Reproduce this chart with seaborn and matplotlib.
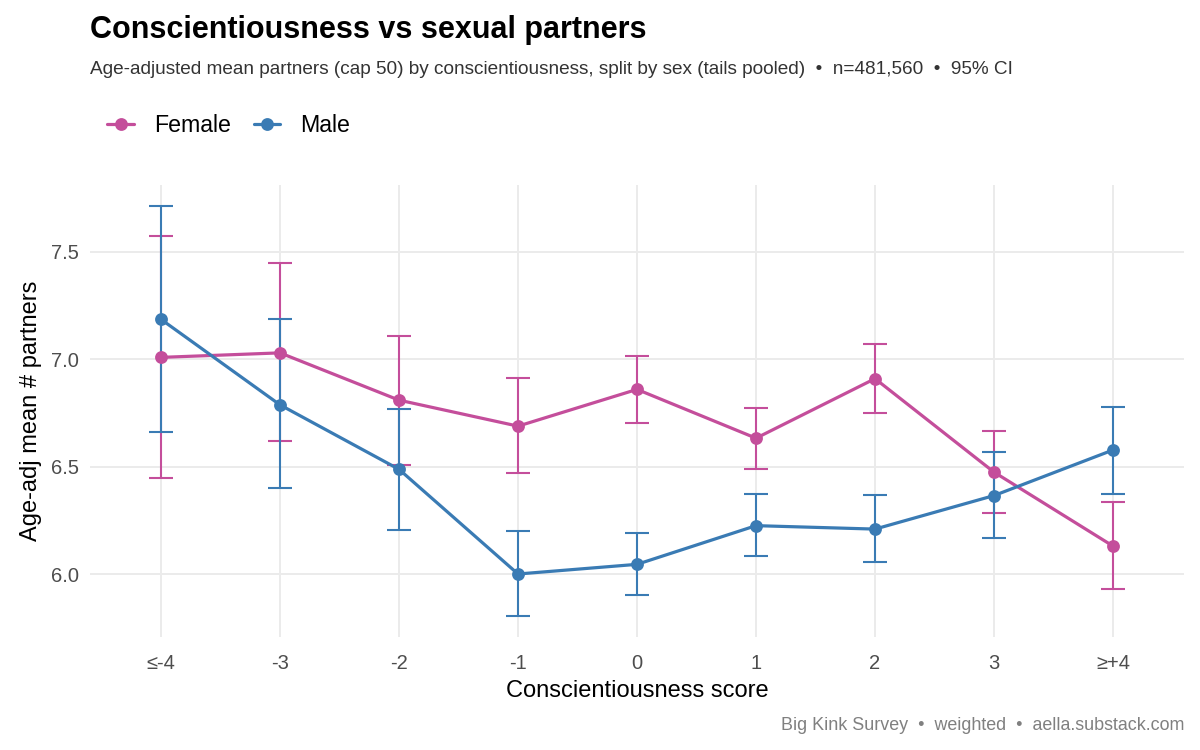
"""
Conscientiousness vs sexual partners: age-adjusted mean partners by
conscientiousness score, split by sex, with 95% CI error bars.
"""

import numpy as np
import pandas as pd
import matplotlib
matplotlib.use('Agg')
import matplotlib.pyplot as plt
import seaborn as sns

# Data
scores = ['≤-4', '-3', '-2', '-1', '0', '1', '2', '3', '≥+4']

female_mean = [7.008, 7.029, 6.809, 6.688, 6.859, 6.632, 6.909, 6.474, 6.130]
female_lo = [6.448, 6.620, 6.507, 6.470, 6.703, 6.490, 6.750, 6.286, 5.932]
female_hi = [7.574, 7.448, 7.108, 6.913, 7.015, 6.772, 7.070, 6.666, 6.335]

male_mean = [7.185, 6.787, 6.487, 6.000, 6.045, 6.225, 6.209, 6.365, 6.577]
male_lo = [6.662, 6.400, 6.205, 5.806, 5.904, 6.085, 6.057, 6.167, 6.373]
male_hi = [7.713, 7.186, 6.767, 6.200, 6.190, 6.373, 6.369, 6.570, 6.777]

sexes = ['Female', 'Male']
palette = {'Female': '#C44E9B', 'Male': '#3A7BB4'}

df = pd.concat([
    pd.DataFrame({'score': scores, 'sex': 'Female', 'mean': female_mean,
                  'lo': female_lo, 'hi': female_hi}),
    pd.DataFrame({'score': scores, 'sex': 'Male', 'mean': male_mean,
                  'lo': male_lo, 'hi': male_hi}),
], ignore_index=True)

# Style
sns.set_style("whitegrid")
plt.rcParams['font.family'] = ['Liberation Sans', 'DejaVu Sans']
plt.rcParams['text.color'] = 'black'

fig = plt.figure(figsize=(12, 7.5), dpi=100)
ax = fig.add_axes([0.0747, 0.1507, 0.9123, 0.6026])

# Error bars (95% CI) first, so lines and points sit on top
for sex in sexes:
    d = df[df['sex'] == sex]
    xpos = np.arange(len(scores))
    ax.errorbar(xpos, d['mean'],
                yerr=[d['mean'] - d['lo'], d['hi'] - d['mean']],
                fmt='none', ecolor=palette[sex], elinewidth=1.5,
                capsize=8.5, capthick=1.5, zorder=2)

sns.pointplot(data=df, x='score', y='mean', hue='sex', order=scores,
              hue_order=sexes, palette=palette, errorbar=None,
              markers='o', markersize=7.5, linewidth=2.3, ax=ax, zorder=3)

# Axes cosmetics
ax.set_xlim(-0.6, len(scores) - 0.4)
ax.set_ylim(5.707, 7.81)
ax.set_yticks([6.0, 6.5, 7.0, 7.5])
ax.set_yticklabels(['6.0', '6.5', '7.0', '7.5'])
ax.grid(True, color='#EBEBEB', linewidth=1.4)
ax.set_axisbelow(True)
for s in ax.spines.values():
    s.set_visible(False)
ax.tick_params(axis='both', length=0, labelsize=14.5, labelcolor='#4D4D4D')
ax.tick_params(axis='x', pad=12)
ax.tick_params(axis='y', pad=8)
ax.set_xlabel('Conscientiousness score', fontsize=17, color='black')
ax.set_ylabel('Age-adj mean # partners', fontsize=17, color='black')
ax.xaxis.set_label_coords(0.5, -0.12)
ax.xaxis.label.set_va('center')
ax.yaxis.set_label_coords(-0.054, 0.5)
ax.yaxis.label.set_va('center')

# Legend at top left
handles, labels = ax.get_legend_handles_labels()
ax.get_legend().remove()
fig.legend(handles, labels, loc='center left', bbox_to_anchor=(0.072, 0.832),
           frameon=False, ncol=2, fontsize=16.7, handlelength=1.15,
           handletextpad=0.85, columnspacing=1.0, labelcolor='black')

# Titles and caption
fig.text(0.075, 0.960, 'Conscientiousness vs sexual partners', fontsize=22,
         fontweight='bold', color='black', ha='left', va='center')
fig.text(0.075, 0.907,
         'Age-adjusted mean partners (cap 50) by conscientiousness, split by sex '
         '(tails pooled)  •  n=481,560  •  95% CI',
         fontsize=13.65, color='#333333', ha='left', va='center')
fig.text(0.987, 0.033, 'Big Kink Survey  •  weighted  •  aella.substack.com',
         fontsize=12.9, color='#808080', ha='right', va='center')

fig.savefig('out.png', dpi=100)
plt.close(fig)
